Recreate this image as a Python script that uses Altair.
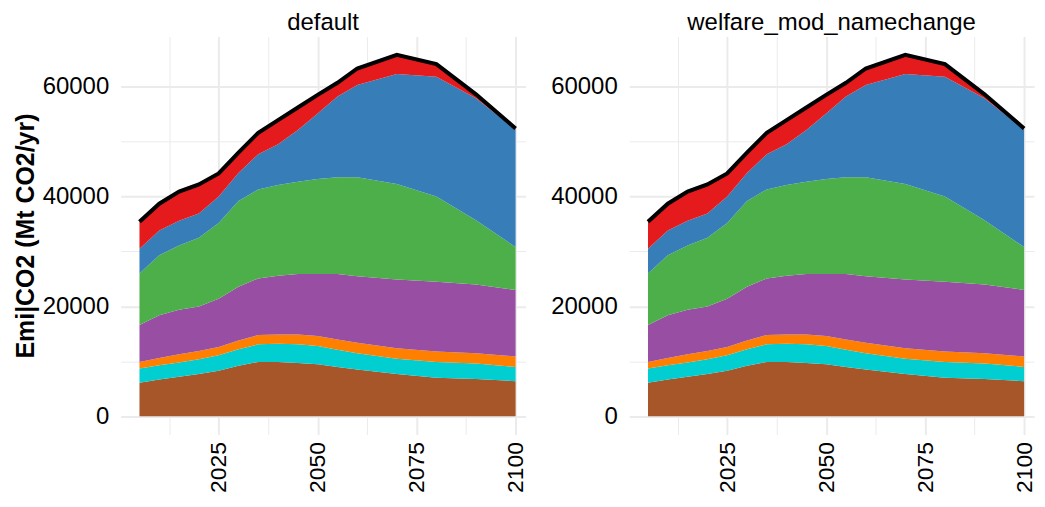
import altair as alt
import pandas as pd

years = [2005, 2010, 2015, 2020, 2025, 2030, 2035, 2040, 2045, 2050, 2055, 2060, 2070, 2080, 2090, 2100]
scenarios = ["default", "welfare_mod_namechange"]
sectors = ["Land-Use Change", "Transport", "Industrial Processes", "Industry", "Electricity", "Other Energy Supply", "Buildings"]
colors = ["#A65628", "#00CED1", "#FF7F00", "#984EA3", "#4DAF4A", "#377EB8", "#E41A1C"]

land_use = [6100, 6700, 7200, 7700, 8300, 9200, 9900, 9900, 9700, 9500, 9000, 8500, 7700, 7000, 6800, 6400]
transport = [2600, 2600, 2600, 2700, 2800, 3000, 3200, 3300, 3400, 3300, 3100, 3000, 2800, 2900, 2800, 2600]
processes = [1200, 1300, 1500, 1500, 1500, 1600, 1700, 1700, 1800, 1800, 1900, 1900, 1900, 1900, 1900, 1900]
industry = [6700, 7800, 8100, 8100, 8800, 9800, 10300, 10700, 11000, 11300, 11900, 12100, 12500, 12700, 12500, 12100]
electricity = [9400, 10900, 11700, 12500, 13800, 15600, 16200, 16500, 16800, 17300, 17600, 18000, 17400, 15500, 11700, 7800]
other_supply = [4500, 4500, 4500, 4400, 4800, 5100, 6400, 7400, 9400, 11900, 14700, 16800, 20000, 21800, 22200, 21400]
buildings = [4900, 4900, 5300, 5300, 4200, 3700, 3900, 4400, 4100, 3400, 2500, 3000, 3500, 2300, 700, 200]

series = [land_use, transport, processes, industry, electricity, other_supply, buildings]

rows = []
for scn in scenarios:
    for k, (name, vals) in enumerate(zip(sectors, series)):
        for y, v in zip(years, vals):
            rows.append({"scenario": scn, "sector": name, "ord": k, "year": y, "value": v})
df = pd.DataFrame(rows)
tot = df.groupby(["scenario", "year"], as_index=False)["value"].sum().rename(columns={"value": "total"})

FONT = "Liberation Sans"
xscale = alt.Scale(domain=[2000.25, 2102.5], nice=False, zero=False)
yscale = alt.Scale(domain=[-3300, 69100], nice=False, zero=False)

grid_w_x = {"condition": {"test": "datum.value % 25 == 0", "value": 2}, "value": 1}
grid_w_y = {"condition": {"test": "datum.value % 20000 == 0", "value": 2}, "value": 1}

xaxis = alt.Axis(
    title=None,
    values=[2012.5, 2025, 2037.5, 2050, 2062.5, 2075, 2087.5, 2100],
    labelExpr="datum.value % 25 == 0 ? format(datum.value, 'd') : ''",
    labelAngle=270,
    labelFontSize=23,
    labelPadding=7,
    gridWidth=grid_w_x,
    domain=False,
    ticks=False,
)


def yaxis(show_title):
    kw = dict(
        values=[0, 10000, 20000, 30000, 40000, 50000, 60000],
        labelExpr="datum.value % 20000 == 0 ? format(datum.value, 'd') : ''",
        labelFontSize=24,
        labelPadding=12,
        gridWidth=grid_w_y,
        domain=False,
        ticks=False,
    )
    if show_title:
        kw.update(title="Emi|CO2 (Mt CO2/yr)", titleFontSize=25, titleFontWeight="bold", titlePadding=4)
    else:
        kw.update(title=None)
    return alt.Axis(**kw)


def panel(scn, show_title):
    area = alt.Chart(df[df.scenario == scn]).mark_area(opacity=1).encode(
        x=alt.X("year:Q", scale=xscale, axis=xaxis),
        y=alt.Y("value:Q", stack="zero", scale=yscale, axis=yaxis(show_title)),
        color=alt.Color("sector:N", scale=alt.Scale(domain=sectors, range=colors), legend=None),
        order=alt.Order("ord:Q"),
    )
    line = alt.Chart(tot[tot.scenario == scn]).mark_line(color="black", strokeWidth=4).encode(
        x=alt.X("year:Q", scale=xscale),
        y=alt.Y("total:Q", scale=yscale),
    )
    return alt.layer(area, line).properties(
        width=406,
        height=399,
        title=alt.TitleParams(scn, fontSize=24, fontWeight="normal", font=FONT, color="black", anchor="middle", offset=2),
    )


chart = alt.hconcat(panel(scenarios[0], True), panel(scenarios[1], False), spacing=22).properties(
    padding={"left": 5, "top": 2, "right": 0, "bottom": 0},
    background="white",
).configure_view(stroke=None).configure_axis(
    domain=False,
    ticks=False,
    gridColor="#EBEBEB",
    labelColor="black",
    titleColor="black",
    labelFont=FONT,
    titleFont=FONT,
)

chart.save("out.html", embed_options={"renderer": "svg", "actions": False})
